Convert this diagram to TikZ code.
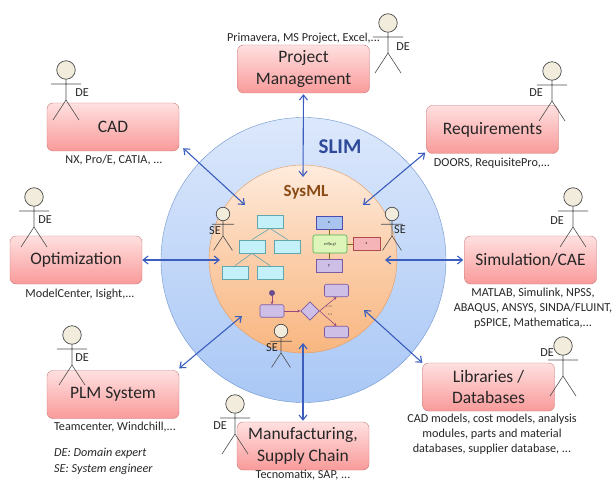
\documentclass[tikz,border=0pt]{standalone}
\usepackage{fontspec}
\setmainfont{Carlito}
\usetikzlibrary{arrows.meta,shapes.geometric}
\definecolor{boxtop}{HTML}{FFE0E0}
\definecolor{boxbot}{HTML}{F99A9A}
\definecolor{boxline}{HTML}{C97A7A}
\definecolor{linkblue}{HTML}{3A5DBE}
\definecolor{skytop}{HTML}{DCE8FC}
\definecolor{skybot}{HTML}{A9C7F5}
\definecolor{skyline}{HTML}{6C93CC}
\definecolor{orgtop}{HTML}{FEEBDD}
\definecolor{orgbot}{HTML}{F8B680}
\definecolor{orgline}{HTML}{E09A60}
\definecolor{sysbrown}{HTML}{8A4A14}
\definecolor{cyanbox}{HTML}{C4F0FA}
\definecolor{tealline}{HTML}{62A6AE}
\definecolor{violetbox}{HTML}{CDBFE6}
\definecolor{violetline}{HTML}{7C5AA4}
\definecolor{headfill}{HTML}{F2ECDC}
\definecolor{parblue}{HTML}{A9C4EF}
\definecolor{pargreen}{HTML}{DDF5B8}
\definecolor{parred}{HTML}{F4B4B8}
\tikzset{
  x=1pt, y=-1pt,
  toolbox/.style={draw=boxline, rounded corners=6pt, top color=boxtop, bottom color=boxbot,
    minimum width=132pt, minimum height=48pt, inner sep=0pt, align=center,
    font=\fontsize{17.5}{21.5}\selectfont, text=black!85},
  toollist/.style={align=center, inner sep=0pt, font=\fontsize{12.2}{15}\selectfont, text=black!85},
  link/.style={{Straight Barb[length=5pt,width=8pt]}-{Straight Barb[length=5pt,width=8pt]}, draw=linkblue, line width=1.1pt},
  treebox/.style={draw=tealline, fill=cyanbox, line width=.8pt, minimum width=26pt, minimum height=13pt, inner sep=0pt},
  treeline/.style={draw=tealline, line width=.6pt},
  actbox/.style={draw=violetline, fill=violetbox, rounded corners=1.5pt, line width=.6pt, minimum width=24pt, minimum height=12.5pt, inner sep=0pt},
  actflow/.style={-{Stealth[length=3pt,width=3pt]}, draw=violetline!80!red, line width=.6pt},
  parbox/.style={line width=.6pt, minimum width=26pt, minimum height=13pt, inner sep=0pt, font=\fontsize{4}{4}\selectfont},
  parline/.style={draw=olive!80!black, line width=.6pt},
  tiny/.style={inner sep=0pt, font=\fontsize{3}{3}\selectfont, text=black!70},
  who/.style={inner sep=0pt, font=\fontsize{12.2}{14}\selectfont, text=black!85},
}
% actor: name, head x, head y, scale
\newcommand{\actor}[4]{
\begin{scope}[shift={(#2,#3)}, scale=#4, transform shape]
\node[circle, draw=black!70, fill=headfill, line width=.7pt, minimum size=18.5pt, inner sep=0pt] (#1) at (0,0) {};
\coordinate (#1hip) at (0,30);
\draw[black!70, line width=.6pt] (#1.south) -- (#1hip) -- (-13,50) (#1hip) -- (13,50) (-15,14) -- (15,14);
\end{scope}
}
\begin{document}
\begin{tikzpicture}
\useasboundingbox (0,0) rectangle (615,481);
% circles
\node[circle, draw=skyline, top color=skytop, bottom color=skybot, minimum size=285pt, inner sep=0pt] (slim) at (303.5,260) {};
\node[circle, draw=orgline, top color=orgtop, bottom color=orgbot, middle color=orgbot!55!orgtop, minimum size=188pt, inner sep=0pt] (sysml) at (303,259) {};
\node[text=linkblue!80!black, inner sep=0pt, font=\fontsize{21}{24}\bfseries\selectfont] (slimlabel) at (340,147) {SLIM};
\node[text=sysbrown, inner sep=0pt, font=\fontsize{17}{20}\bfseries\selectfont] (sysmllabel) at (306,192) {SysML};
% boxes
\node[toolbox] (cad) at (113,127) {CAD};
\node[toolbox] (pm) at (303.5,69) {Project\\Management};
\node[toolbox] (req) at (492.5,129.5) {Requirements};
\node[toolbox] (opt) at (76,260) {Optimization};
\node[toolbox] (sim) at (530.5,260) {Simulation/CAE};
\node[toolbox] (plm) at (113,394.5) {PLM System};
\node[toolbox] (mfg) at (303,446) {Manufacturing,\\Supply Chain};
\node[toolbox] (lib) at (488.5,387) {Libraries /\\Databases};
% tool lists
\node[toollist] (cadtools) at (114,160) {NX, Pro/E, CATIA, ...};
\node[toollist] (pmtools) at (303.5,38) {Primavera, MS Project, Excel,...};
\node[toollist] (reqtools) at (492,163) {DOORS, RequisitePro,...};
\node[toollist] (opttools) at (80,294) {ModelCenter, Isight,...};
\node[toollist] (simtools) at (533,308) {MATLAB, Simulink, NPSS,\\ABAQUS, ANSYS, SINDA/FLUINT,\\pSPICE, Mathematica,...};
\node[toollist] (plmtools) at (115,427) {Teamcenter, Windchill,...};
\node[toollist] (mfgtools) at (303,475.5) {Tecnomatix, SAP, ...};
\node[toollist] (libtools) at (492,434) {CAD models, cost models, analysis\\modules, parts and material\\databases, supplier database, ...};
\node[toollist, anchor=west, align=left, font=\fontsize{12.2}{15.5}\itshape\selectfont] (legend) at (54,461.5) {DE: Domain expert\\SE: System engineer};
% arrows
\coordinate (cadend) at (245,205);
\coordinate (pmend) at (303,177);
\coordinate (reqend) at (363,205);
\coordinate (optend) at (220,260);
\coordinate (simend) at (385,260);
\coordinate (plmend) at (242,316);
\coordinate (mfgend) at (303,343);
\coordinate (libend) at (364,310);
\draw[link] ([shift={(4,-3)}]cad.south east) -- (cadend);
\draw[link] ([yshift=-1pt]pm.south) -- (pmend);
\draw[link] ([shift={(-1,-1)}]req.south west) -- (reqend);
\draw[link] (opt.east) -- (optend);
\draw[link] ([xshift=-1pt]sim.west) -- (simend);
\draw[link] ([yshift=2pt]plm.north east) -- (plmend);
\draw[link] ([yshift=1pt]mfg.north) -- (mfgend);
\draw[link] (lib.north west) -- (libend);
% actors DE
\actor{decad}{66}{70}{1}
\actor{depm}{388}{23}{1}
\actor{dereq}{552}{71}{1}
\actor{deopt}{34}{197}{1}
\actor{desim}{573}{197}{1}
\actor{delib}{563}{346}{1}
\actor{deplm}{72}{335}{1}
\actor{demfg}{235}{404}{1}
\node[who] (decadl) at (82,93) {DE};
\node[who] (depml) at (403,47) {DE};
\node[who] (dereql) at (536,93) {DE};
\node[who] (deoptl) at (45,220) {DE};
\node[who] (desiml) at (557,221) {DE};
\node[who] (delibl) at (547,353) {DE};
\node[who] (deplml) at (82,358) {DE};
\node[who] (demfgl) at (220,426) {DE};
% actors SE
\actor{seleft}{223}{214}{.73}
\actor{seright}{392}{214}{.73}
\actor{sebot}{281}{331}{.73}
\node[who] (seleftl) at (215,231) {SE};
\node[who] (serightl) at (400,230) {SE};
\node[who] (sebotl) at (272,348) {SE};
% class tree
\node[treebox] (t1) at (270,221.5) {};
\node[treebox] (t2) at (252,246.5) {};
\node[treebox] (t3) at (287.5,246.5) {};
\node[treebox] (t4) at (235,272.5) {};
\node[treebox] (t5) at (270,272.5) {};
\draw[treeline] (t1.south) -- (t2.north);
\draw[treeline] (t1.south) -- (t3.north);
\draw[treeline] (t2.south) -- (t4.north);
\draw[treeline] (t2.south) -- (t5.north);
% parametric
\node[parbox, draw=blue!40!gray, fill=parblue] (parx) at (329,222.5) {x};
\node[parbox, draw=green!40!gray, fill=pargreen, rounded corners=2pt, minimum width=34pt, minimum height=18pt] (parf) at (330,244) {z=f(x,y)};
\node[parbox, draw=red!40!gray, fill=parred, minimum width=27pt, minimum height=12.5pt] (parz) at (366.5,244) {z};
\node[parbox, draw=violetline, fill=violetbox] (pary) at (329,265.5) {y};
\draw[parline] (parx.south) -- (parx.south |- parf.north);
\draw[parline] (pary.north) -- (pary.north |- parf.south);
\draw[parline] (parf.east) -- (parz.west);
% activity
\node[circle, fill=violetline!85!black, minimum size=6pt, inner sep=0pt] (actstart) at (272,293) {};
\node[actbox] (act1) at (272,311) {};
\node[diamond, draw=violetline, fill=violetbox, line width=.6pt, minimum width=18.5pt, minimum height=18.5pt, inner sep=0pt] (actdec) at (310,311) {};
\node[actbox] (act2) at (336.5,290.5) {};
\node[actbox, minimum height=11.5pt] (act3) at (336.5,332) {};
\draw[actflow] (actstart) -- (act1);
\draw[actflow] (act1) -- (actdec);
\draw[actflow] (actdec.east) -- (act2.south);
\draw[actflow] (actdec.east) -- (act3.north);
\node[tiny] (actyes) at (329,306.5) {z>=4};
\node[tiny] (actno) at (330,315) {z<4};
\end{tikzpicture}
\end{document}
